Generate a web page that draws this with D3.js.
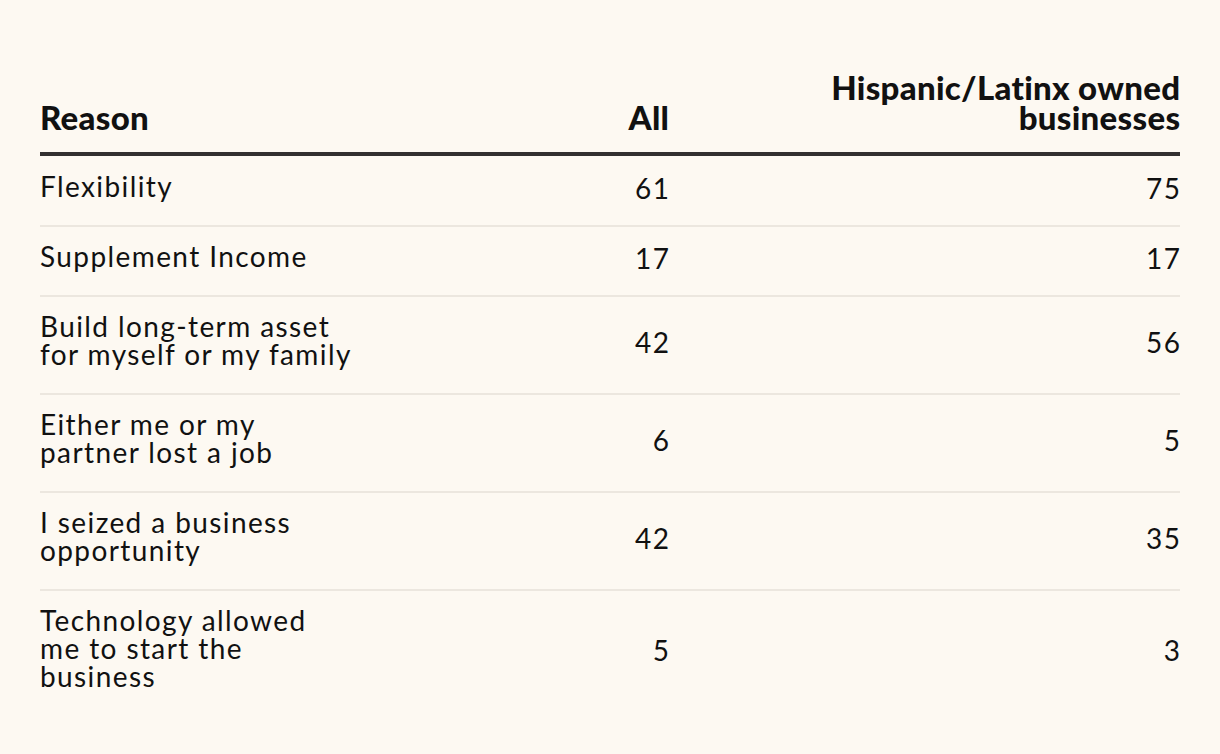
<!DOCTYPE html>
<html>
<head>
<meta charset="utf-8">
<script src="https://cdn.jsdelivr.net/npm/d3@7"></script>
<style>
  html, body { margin: 0; padding: 0; background: #fdf9f2; }
  svg { display: block; }
  .head { font-family: "Lato", sans-serif; font-weight: 900; fill: #111; letter-spacing: 0.3px; }
  .cell { font-family: "Lato", sans-serif; font-weight: 400; fill: #111; letter-spacing: 1.4px; }
</style>
</head>
<body>
<div id="chart"></div>
<script>
// table content
const columns = ["Reason", "All", "Hispanic/Latinx owned businesses"];
const columnHeadLines = [["Reason"], ["All"], ["Hispanic/Latinx owned", "businesses"]];
const reasons = [
    ["Flexibility"],
    ["Supplement Income"],
    ["Build long-term asset", "for myself or my family"],
    ["Either me or my", "partner lost a job"],
    ["I seized a business", "opportunity"],
    ["Technology allowed", "me to start the", "business"]
];
const allValues = [61, 17, 42, 6, 42, 5];
const hispanicValues = [75, 17, 56, 5, 35, 3];

const width = 1220, height = 754;
const margin = {left: 40, right: 40};
const lineH = 28;
const rowPad = 42;
const bodyLs = 1.4, headLs = 0.3;

const svg = d3.select("#chart").append("svg")
    .attr("width", width)
    .attr("height", height);

// column anchors: text-anchor start for first, end for numbers
const x = d3.scaleOrdinal()
    .domain(columns)
    .range([margin.left, 669, width - margin.right]);
const anchors = ["start", "end", "end"];

// header
const headBase = 130;
columnHeadLines.forEach(function(lines, i) {
    let t = svg.append("text")
        .attr("class", "head")
        .attr("text-anchor", anchors[i])
        .attr("font-size", 33);
    lines.forEach(function(l, j) {
        t.append("tspan")
            .attr("x", x(columns[i]) + (i > 0 ? headLs : 0))
            .attr("y", headBase - (lines.length - 1 - j) * 30)
            .text(l);
    });
});

svg.append("rect")
    .attr("x", margin.left)
    .attr("y", 152)
    .attr("width", width - margin.left - margin.right)
    .attr("height", 4)
    .attr("fill", "#333030");

// rows
let rows = [];
let rowTop = 156;
reasons.forEach(function(r, i) {
    let h = rowPad + r.length * lineH;
    rows.push({lines: r, all: allValues[i], hisp: hispanicValues[i], top: rowTop, h: h});
    rowTop += h;
});

rows.forEach(function(d, i) {
    let g = svg.append("g");
    let firstBase = d.top + (d.h - d.lines.length * lineH) / 2 + 20;
    let mid = d.top + d.h / 2 + 8;
    let t = g.append("text").attr("class", "cell").attr("font-size", 28);
    d.lines.forEach(function(l, j) {
        t.append("tspan")
            .attr("x", x(columns[0]))
            .attr("y", firstBase + j * lineH)
            .text(l);
    });
    g.append("text").attr("class", "cell").attr("font-size", 28)
        .attr("text-anchor", "end")
        .attr("x", x(columns[1]) + bodyLs)
        .attr("y", mid)
        .text(d.all);
    g.append("text").attr("class", "cell").attr("font-size", 28)
        .attr("text-anchor", "end")
        .attr("x", x(columns[2]) + bodyLs)
        .attr("y", mid)
        .text(d.hisp);
    if (i < rows.length - 1) {
        g.append("rect")
            .attr("x", margin.left)
            .attr("y", d.top + d.h - 1)
            .attr("width", width - margin.left - margin.right)
            .attr("height", 2)
            .attr("fill", "#ece7df");
    }
});
</script>
</body>
</html>
